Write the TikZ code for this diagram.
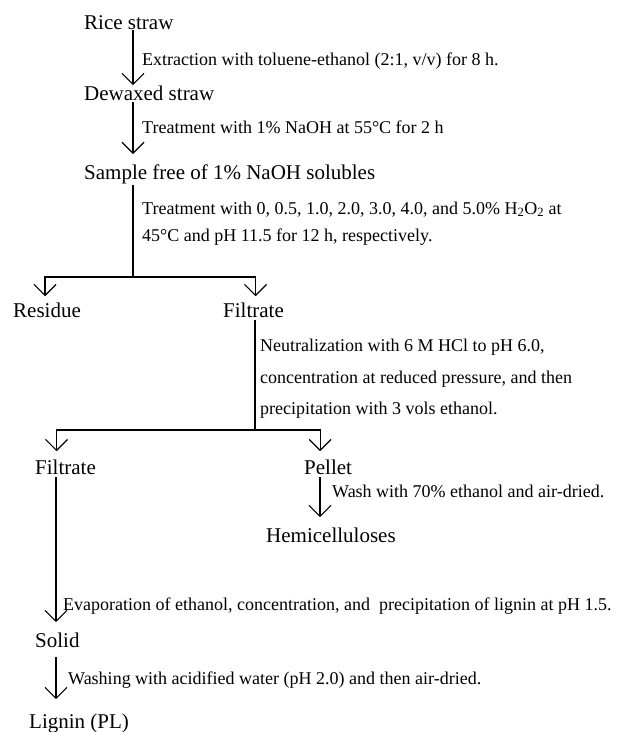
\documentclass[tikz,border=0pt]{standalone}
\usepackage{fontspec}
\setmainfont{Liberation Serif}
\usetikzlibrary{arrows.meta}

\begin{document}
\begin{tikzpicture}[x=1pt, y=-1pt, >={Straight Barb[length=11pt,width=22pt]},
  stage/.style={anchor=base west, inner sep=0pt, font=\fontsize{21}{21}\selectfont},
  note/.style={anchor=base west, inner sep=0pt, font=\fontsize{18}{18}\selectfont},
  flow/.style={->, line width=1.2pt},
  trunk/.style={line width=1.2pt}]
\useasboundingbox (0,0) rectangle (619,732);
% stages
\node[stage] (rice)    at (84,29)  {Rice straw};
\node[stage] (dewax)   at (84,100) {Dewaxed straw};
\node[stage] (sample)  at (84,179) {Sample free of 1\% NaOH solubles};
\node[stage] (residue) at (13,317) {Residue};
\node[stage] (filt)    at (223,317) {Filtrate};
\node[stage] (filtb)   at (35,474) {Filtrate};
\node[stage] (pellet)  at (304,474) {Pellet};
\node[stage] (hemi)    at (266,542) {Hemicelluloses};
\node[stage] (solid)   at (35,647) {Solid};
\node[stage] (lignin)  at (29,728) {Lignin (PL)};
% treatments
\node[note] (ext)  at (142,65)  {Extraction with toluene-ethanol (2:1, v/v) for 8 h.};
\node[note] (naoh) at (142,133) {Treatment with 1\% NaOH at 55°C for 2 h};
\node[note] (perox) at (142,214) {Treatment with 0, 0.5, 1.0, 2.0, 3.0, 4.0, and 5.0\% H\textsubscript{2}O\textsubscript{2} at};
\node[note] (peroxb) at (142,241) {45°C and pH 11.5 for 12 h, respectively.};
\foreach \t [count=\i] in {{Neutralization with 6 M HCl to pH 6.0,},
    {concentration at reduced pressure, and then},
    {precipitation with 3 vols ethanol.}} {
  \node[note] (neut\i) at (260,320+31.5*\i) {\t};
}
\node[note] (wash)    at (332,497) {Wash with 70\% ethanol and air-dried.};
\node[note] (evap)    at (63,610)  {Evaporation of ethanol, concentration, and\ \ precipitation of lignin at pH 1.5.};
\node[note] (washacid) at (68,684) {Washing with acidified water (pH 2.0) and then air-dried.};
% branch points
\coordinate (b1) at (133,277);
\coordinate (b2) at (255,430);
% connectors
\draw[flow, shorten <=1pt] (rice.south -| b1) -- (dewax.north -| b1);
\draw[flow, shorten <=2pt, shorten >=10pt] (dewax.south -| b1) -- (sample.north -| b1);
\draw[trunk, shorten <=1pt] (sample.south -| b1) -- (b1);
\draw[flow, shorten >=6pt] (b1) -| ([xshift=-2pt]residue.north);
\draw[flow, shorten >=6pt] (b1) -| ([xshift=2pt]filt.north);
\draw[trunk, shorten <=3pt] (filt.south -| b2) -- (b2);
\draw[flow, shorten >=8pt] (b2) -| ([xshift=-9pt]filtb.north);
\draw[flow, shorten >=8pt] (b2) -| ([xshift=-8pt]pellet.north);
\draw[flow, shorten <=3pt, shorten >=10pt] (pellet.south -| 320,0) -- (hemi.north -| 320,0);
\draw[flow, shorten <=3pt, shorten >=10pt] (filtb.south -| 56,0) -- (solid.north -| 56,0);
\draw[flow, shorten <=10pt, shorten >=14pt] (solid.south -| 56,0) -- (lignin.north -| 56,0);
\end{tikzpicture}
\end{document}
